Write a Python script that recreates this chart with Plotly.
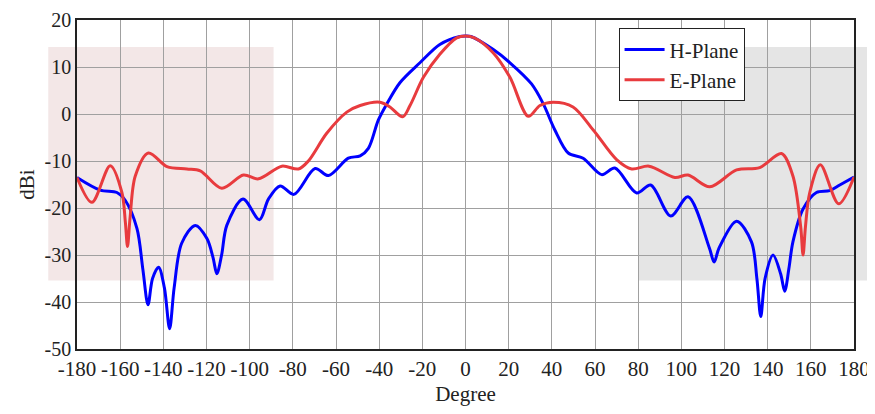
import plotly.graph_objects as go

# H-Plane (blue)
h_deg = [-180, -169.2, -161.5, -157.6, -152.2, -149.5, -147.1, -145.0, -142.2, -139.5, -137.1, -135.0, -131.5,
         -125.2, -119.8, -117.0, -115.2, -113.0, -110.6, -103.1, -95.5, -91.3, -85.9, -79.5, -69.7, -63.5,
         -54.3, -48.8, -45, -40.4, -36.5, -30.3, -21.1, -11.9, -2.6, 0,
         2.5, 12.9, 20.6, 30.6, 36, 41.4, 47.6, 54.5, 63.1, 69.2, 79.3, 85.8, 95.1, 103.1, 113.0, 115.2, 117.5,
         125.6, 132.5, 135.0, 136.8, 138.8, 142.5, 146.0, 147.9, 149.8, 151.7, 156.4, 162.6, 168.7, 173.4, 180]
h_dbi = [-13.5, -16.2, -16.7, -18.4, -24.4, -33.0, -40.6, -35.0, -32.6, -37.0, -45.7, -37.0, -27.5,
         -23.7, -26.5, -30.5, -34.0, -30.0, -23.7, -18.1, -22.5, -18.1, -15.3, -17.1, -11.6, -13.1,
         -9.4, -8.9, -7.3, -1.3, 2.1, 6.7, 10.9, 14.8, 16.5, 16.6,
         16.5, 13.7, 10.9, 6.4, 2.2, -3.4, -8.3, -9.4, -12.9, -11.5, -16.8, -15.1, -21.7, -17.6, -28.5, -31.5, -28.5,
         -22.8, -27.2, -35.0, -43.1, -35.0, -30.0, -34.0, -37.7, -33.0, -27.2, -20.2, -16.7, -16.3, -15.1, -13.4]

# E-Plane (red)
e_deg = [-180, -173.1, -164.6, -159.2, -157.6, -156.6, -155.4, -153, -146.9, -138.3, -129.1, -122.9, -112.9,
         -102.9, -95.9, -85.1, -77.4, -72.8, -64.3, -55, -48.8, -39.6, -35, -29.1, -25.7, -19.5, -11.9, -4.1, 0,
         4.1, 12.9, 20.6, 29.1, 34.5, 40.6, 49.8, 59.2, 70, 77, 85, 97, 103.1, 113.2, 125.6, 136.3, 146.4,
         151.7, 155.3, 156.4, 157.5, 159.5, 164.4, 172.9, 180]
e_dbi = [-13.5, -18.8, -11.0, -16.7, -23.0, -28.2, -22.0, -13.2, -8.3, -11.2, -11.7, -12.1, -15.8,
         -13.0, -13.8, -11.1, -11.7, -10.0, -4.1, 0.4, 1.8, 2.5, 1.5, -0.6, 1.8, 7.8, 12.7, 16.2, 16.6,
         16.2, 13.0, 7.8, -0.5, 1.8, 2.5, 1.5, -3.4, -9.7, -11.7, -11.1, -13.5, -13.0, -15.5, -11.9, -11.4, -8.4,
         -13.2, -24.0, -30.0, -24.0, -16.7, -10.8, -19.1, -13.4]

x_ticks = list(range(-180, 181, 20))
x_tick_text = [str(v) for v in x_ticks]
y_ticks = list(range(-50, 21, 10))
y_tick_text = [str(v) for v in y_ticks]

font_family = "'Liberation Serif', 'Times New Roman', Times, serif"

fig = go.Figure()
fig.add_trace(go.Scatter(x=h_deg, y=h_dbi, mode="lines", name="H-Plane",
                         line=dict(color="#0000ff", width=3, shape="spline", smoothing=0.9)))
fig.add_trace(go.Scatter(x=e_deg, y=e_dbi, mode="lines", name="E-Plane",
                         line=dict(color="#e83b3e", width=3, shape="spline", smoothing=0.9)))

# shaded regions (extend slightly beyond plot area)
fig.add_shape(type="rect", xref="paper", yref="paper", x0=-0.037, x1=0.253, y0=0.208, y1=0.918,
              fillcolor="#f3e7e7", line=dict(width=0), layer="below")
fig.add_shape(type="rect", xref="paper", yref="paper", x0=0.722, x1=1.017, y0=0.208, y1=0.918,
              fillcolor="#e5e5e5", line=dict(width=0), layer="below")

fig.update_layout(
    width=875, height=414,
    margin=dict(l=69, r=29, t=12, b=73),
    paper_bgcolor="white",
    plot_bgcolor="rgba(0,0,0,0)",
    font=dict(family=font_family, size=21, color="#222"),
    showlegend=True,
    legend=dict(x=0.697, y=0.975, xanchor="left", yanchor="top",
                bgcolor="white", bordercolor="#222", borderwidth=1,
                font=dict(family=font_family, size=21, color="#222"),
                tracegroupgap=0, itemwidth=40),
)
fig.update_xaxes(range=[-180, 180], tickmode="array", tickvals=x_ticks, ticktext=x_tick_text,
                 showgrid=True, gridcolor="#a0a0a0", gridwidth=1,
                 showline=True, linecolor="#222", linewidth=1.5, mirror=True,
                 zeroline=False, ticks="", ticklen=0, automargin=False, ticklabeloverflow="allow",
                 tickfont=dict(family=font_family, size=21),
                 title=dict(text="Degree", font=dict(family=font_family, size=21), standoff=6))
fig.update_yaxes(range=[-50, 20], tickmode="array", tickvals=y_ticks, ticktext=y_tick_text,
                 showgrid=True, gridcolor="#a0a0a0", gridwidth=1,
                 showline=True, linecolor="#222", linewidth=1.5, mirror=True,
                 zeroline=False, ticks="", ticklen=0, automargin=False, ticklabeloverflow="allow",
                 tickfont=dict(family=font_family, size=20),
                 title=dict(text="dBi", font=dict(family=font_family, size=21), standoff=4))

fig.write_html("out.html")
